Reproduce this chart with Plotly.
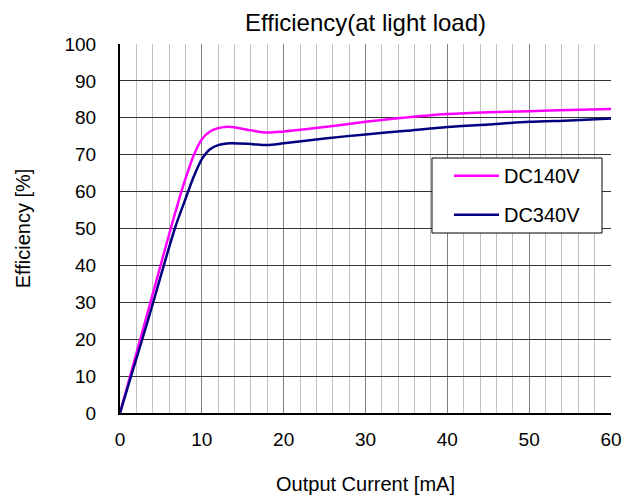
import plotly.graph_objects as go

x140 = [0, 3.1, 6.2, 7.3, 8, 9, 10, 11, 12, 13.3, 16, 18, 20, 25, 30, 35, 40, 45, 50, 55, 60]
y140 = [0, 25, 50, 58.5, 63.5, 69.8, 74.2, 76.3, 77.2, 77.6, 76.6, 76.0, 76.3, 77.5, 78.9, 80.1, 81.0, 81.5, 81.8, 82.1, 82.4]
x340 = [0, 3.4, 6.7, 8, 9, 10, 11, 12, 13.5, 16, 18, 20, 25, 30, 35, 40, 45, 50, 55, 60]
y340 = [0, 25, 50, 58, 64, 68.8, 71.5, 72.6, 73.1, 72.9, 72.6, 73.1, 74.4, 75.5, 76.5, 77.5, 78.2, 78.9, 79.3, 79.8]

font = "Liberation Sans, Arial, sans-serif"

fig = go.Figure()
fig.add_trace(go.Scatter(x=x140, y=y140, mode="lines", name="DC140V", legendgroup="a",
                         line=dict(color="#ff00ff", width=2.5, shape="spline", smoothing=0.8)))
fig.add_trace(go.Scatter(x=x340, y=y340, mode="lines", name="DC340V", legendgroup="b",
                         line=dict(color="#000080", width=2.5, shape="spline", smoothing=0.8)))

# legend frame
fig.add_shape(type="rect", xref="paper", yref="paper", x0=0.6354, x1=0.9817, y0=0.4878, y1=0.691,
              line=dict(color="black", width=1), fillcolor="white", layer="above")

fig.update_layout(
    width=642, height=495,
    margin=dict(l=120, r=31, t=44, b=82),
    paper_bgcolor="white", plot_bgcolor="white",
    font=dict(family=font, color="black"),
    title=dict(text="Efficiency(at light load)", x=0.5, xanchor="center", xref="paper",
               y=0.955, yanchor="middle", font=dict(size=24, color="black")),
    xaxis=dict(range=[0, 60], dtick=10, tick0=0, showgrid=True, gridcolor="#808080", gridwidth=1,
               minor=dict(dtick=2, showgrid=True, gridcolor="#c0c0c0", gridwidth=1),
               showline=True, linecolor="black", linewidth=2, zeroline=False, automargin=False,
               ticks="", tickfont=dict(size=19), ticklabelstandoff=8,
               title=dict(text="Output Current [mA]", font=dict(size=20), standoff=30)),
    yaxis=dict(range=[0, 100], dtick=10, tick0=0, showgrid=True, gridcolor="#333333", gridwidth=1,
               showline=True, linecolor="black", linewidth=2, zeroline=False, automargin=False,
               ticks="", tickfont=dict(size=19), ticklabelstandoff=18,
               title=dict(text="Efficiency [%]", font=dict(size=20), standoff=28)),
    legend=dict(x=0.67, y=0.696, xanchor="left", yanchor="top",
                bgcolor="rgba(0,0,0,0)", borderwidth=0, traceorder="grouped",
                font=dict(size=20), tracegroupgap=10, itemwidth=45),
    showlegend=True,
)

fig.write_html("out.html")
